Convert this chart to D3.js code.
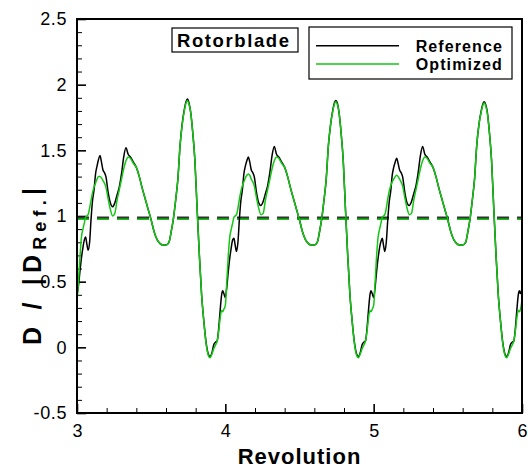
<!DOCTYPE html>
<html>
<head>
<meta charset="utf-8">
<script src="https://cdn.jsdelivr.net/npm/d3@7/dist/d3.min.js"></script>
<style>
  html, body { margin: 0; padding: 0; background: #fff; }
  svg { display: block; }
  text { font-family: "Liberation Sans", Arial, Helvetica, sans-serif; fill: #000; }
</style>
</head>
<body>
<svg id="chart" width="528" height="468"></svg>
<script>
// Blade drag over three revolutions, sampled at the same phase positions in each revolution
const phase = [
  0.000, 0.010, 0.020, 0.030, 0.040, 0.050, 0.058, 0.066, 0.075, 0.085,
  0.095, 0.105, 0.115, 0.125, 0.135, 0.145, 0.155, 0.165, 0.175, 0.185,
  0.195, 0.210, 0.225, 0.240, 0.255, 0.270, 0.285, 0.300, 0.315, 0.330,
  0.345, 0.360, 0.380, 0.400, 0.420, 0.440, 0.460, 0.480, 0.500, 0.520,
  0.540, 0.560, 0.580, 0.600, 0.620, 0.635, 0.650, 0.665, 0.680, 0.695,
  0.710, 0.725, 0.735, 0.745, 0.755, 0.765, 0.780, 0.795, 0.810, 0.825,
  0.840, 0.855, 0.870, 0.885, 0.897, 0.910, 0.922, 0.935, 0.945, 0.955,
  0.965, 0.975, 0.982, 0.990
];
const revolutions = [3, 4, 5];

const referenceRev3 = [
  0.40, 0.47, 0.58, 0.68, 0.76, 0.82, 0.84, 0.79, 0.74, 0.80,
  0.98, 1.12, 1.20, 1.32, 1.38, 1.43, 1.46, 1.41, 1.35, 1.33,
  1.30, 1.18, 1.10, 1.07, 1.10, 1.16, 1.22, 1.32, 1.45, 1.52,
  1.47, 1.45, 1.41, 1.37, 1.30, 1.21, 1.13, 1.05, 0.97, 0.88,
  0.82, 0.79, 0.78, 0.78, 0.80, 0.88, 0.98, 1.12, 1.28, 1.54,
  1.71, 1.82, 1.87, 1.89, 1.86, 1.80, 1.64, 1.42, 1.05, 0.70,
  0.40, 0.20, 0.04, -0.05, -0.07, -0.04, 0.02, 0.04, 0.05, 0.14,
  0.28, 0.40, 0.43, 0.41
];
const referenceRev4 = [
  0.38, 0.46, 0.58, 0.68, 0.76, 0.82, 0.83, 0.78, 0.73, 0.80,
  0.98, 1.12, 1.20, 1.32, 1.38, 1.42, 1.45, 1.41, 1.35, 1.33,
  1.30, 1.18, 1.10, 1.08, 1.11, 1.17, 1.23, 1.33, 1.46, 1.53,
  1.47, 1.45, 1.41, 1.37, 1.30, 1.21, 1.13, 1.05, 0.97, 0.88,
  0.82, 0.79, 0.78, 0.78, 0.80, 0.88, 0.98, 1.12, 1.28, 1.54,
  1.70, 1.81, 1.86, 1.88, 1.86, 1.80, 1.64, 1.42, 1.05, 0.70,
  0.40, 0.20, 0.04, -0.05, -0.07, -0.04, 0.02, 0.04, 0.05, 0.14,
  0.28, 0.40, 0.43, 0.41
];
const referenceRev5 = [
  0.38, 0.46, 0.58, 0.68, 0.76, 0.81, 0.83, 0.78, 0.73, 0.80,
  0.97, 1.11, 1.19, 1.31, 1.37, 1.41, 1.44, 1.40, 1.35, 1.33,
  1.30, 1.18, 1.10, 1.08, 1.11, 1.17, 1.23, 1.33, 1.46, 1.53,
  1.47, 1.45, 1.41, 1.37, 1.30, 1.21, 1.13, 1.05, 0.97, 0.88,
  0.82, 0.79, 0.78, 0.78, 0.80, 0.88, 0.98, 1.12, 1.28, 1.54,
  1.70, 1.80, 1.85, 1.87, 1.85, 1.80, 1.64, 1.42, 1.05, 0.70,
  0.40, 0.20, 0.04, -0.05, -0.07, -0.04, 0.02, 0.04, 0.05, 0.14,
  0.28, 0.40, 0.43, 0.41
];

const optimizedRev3 = [
  0.35, 0.50, 0.69, 0.84, 0.90, 0.95, 0.99, 1.00, 1.01, 1.06,
  1.12, 1.18, 1.22, 1.25, 1.28, 1.30, 1.30, 1.29, 1.27, 1.25,
  1.22, 1.13, 1.05, 1.00, 1.02, 1.12, 1.20, 1.28, 1.36, 1.42,
  1.45, 1.44, 1.40, 1.37, 1.30, 1.21, 1.13, 1.05, 0.97, 0.88,
  0.82, 0.79, 0.78, 0.78, 0.80, 0.88, 0.98, 1.12, 1.28, 1.54,
  1.70, 1.81, 1.86, 1.88, 1.85, 1.80, 1.64, 1.42, 1.05, 0.70,
  0.40, 0.20, 0.03, -0.06, -0.08, -0.05, -0.01, 0.02, 0.05, 0.12,
  0.22, 0.28, 0.27, 0.29
];
const optimizedRev4 = [
  0.32, 0.50, 0.70, 0.84, 0.90, 0.95, 0.99, 1.00, 1.01, 1.06,
  1.13, 1.19, 1.23, 1.26, 1.29, 1.31, 1.32, 1.31, 1.28, 1.26,
  1.23, 1.14, 1.06, 1.01, 1.02, 1.12, 1.20, 1.28, 1.36, 1.42,
  1.45, 1.44, 1.40, 1.37, 1.30, 1.21, 1.13, 1.05, 0.97, 0.88,
  0.82, 0.79, 0.78, 0.78, 0.80, 0.88, 0.98, 1.12, 1.28, 1.54,
  1.70, 1.80, 1.85, 1.87, 1.85, 1.80, 1.64, 1.42, 1.05, 0.70,
  0.40, 0.20, 0.03, -0.06, -0.08, -0.05, -0.01, 0.02, 0.05, 0.12,
  0.22, 0.28, 0.27, 0.29
];
const optimizedRev5 = [
  0.32, 0.50, 0.70, 0.84, 0.90, 0.95, 0.99, 1.00, 1.01, 1.06,
  1.13, 1.19, 1.23, 1.26, 1.28, 1.30, 1.31, 1.30, 1.28, 1.26,
  1.23, 1.14, 1.06, 1.01, 1.02, 1.12, 1.20, 1.28, 1.36, 1.42,
  1.45, 1.44, 1.40, 1.37, 1.30, 1.21, 1.13, 1.05, 0.97, 0.88,
  0.82, 0.79, 0.78, 0.78, 0.80, 0.88, 0.98, 1.12, 1.28, 1.54,
  1.70, 1.79, 1.84, 1.86, 1.84, 1.79, 1.64, 1.42, 1.05, 0.70,
  0.40, 0.20, 0.03, -0.06, -0.08, -0.05, -0.01, 0.02, 0.05, 0.12,
  0.22, 0.28, 0.27, 0.29
];

// value at the final revolution mark
const endRevolution = 6;
const referenceEnd = 0.45;
const optimizedEnd = 0.36;

// time-averaged drag levels (dashed)
const referenceMean = 0.988;
const optimizedMean = 0.978;

const xTicks = [3, 4, 5, 6];
const xMinorTicks = [3.2, 3.4, 3.6, 3.8, 4.2, 4.4, 4.6, 4.8, 5.2, 5.4, 5.6, 5.8];
const yTicks = [-0.5, 0, 0.5, 1, 1.5, 2, 2.5];
const yMinorTicks = d3.range(-5, 26).map(d => d / 10).filter(v => !yTicks.some(t => Math.abs(t - v) < 1e-9));

const seriesNames = ["Reference", "Optimized"];
const seriesColors = ["#000000", "#12c812"];

function buildSeries(perRev, endValue) {
  const pts = [];
  revolutions.forEach((r, i) => {
    phase.forEach((p, j) => pts.push([r + p, perRev[i][j]]));
  });
  pts.push([endRevolution, endValue]);
  return pts;
}
const referenceSeries = buildSeries([referenceRev3, referenceRev4, referenceRev5], referenceEnd);
const optimizedSeries = buildSeries([optimizedRev3, optimizedRev4, optimizedRev5], optimizedEnd);

const svg = d3.select("#chart");
const plotLeft = 77, plotRight = 522, plotTop = 19, plotBottom = 413;

const x = d3.scaleLinear().domain([3, 6]).range([plotLeft, plotRight]);
const y = d3.scaleLinear().domain([-0.5, 2.5]).range([plotBottom, plotTop]);

svg.append("defs").append("clipPath").attr("id", "plotClip")
  .append("rect").attr("x", plotLeft).attr("y", plotTop)
  .attr("width", plotRight - plotLeft).attr("height", plotBottom - plotTop);

// minor ticks
svg.append("g").attr("transform", `translate(0,${plotBottom})`)
  .call(d3.axisBottom(x).tickValues(xMinorTicks).tickSize(-5).tickFormat(""))
  .call(g => g.select(".domain").remove())
  .call(g => g.selectAll("line").attr("stroke", "#000").attr("stroke-width", 1));
svg.append("g").attr("transform", `translate(${plotLeft},0)`)
  .call(d3.axisLeft(y).tickValues(yMinorTicks).tickSize(-5).tickFormat(""))
  .call(g => g.select(".domain").remove())
  .call(g => g.selectAll("line").attr("stroke", "#000").attr("stroke-width", 1));

// major ticks and labels
svg.append("g").attr("transform", `translate(0,${plotBottom})`)
  .call(d3.axisBottom(x).tickValues(xTicks).tickSize(-9).tickPadding(11).tickFormat(d3.format("d")))
  .call(g => g.select(".domain").remove())
  .call(g => g.selectAll("line").attr("stroke", "#000").attr("stroke-width", 1.6))
  .call(g => g.selectAll("text").attr("font-size", 18).attr("font-family", "Liberation Sans, Arial, sans-serif").attr("fill", "#000"));
svg.append("g").attr("transform", `translate(${plotLeft},0)`)
  .call(d3.axisLeft(y).tickValues(yTicks).tickSize(-9).tickPadding(10).tickFormat(d => String(d)))
  .call(g => g.select(".domain").remove())
  .call(g => g.selectAll("line").attr("stroke", "#000").attr("stroke-width", 1.6))
  .call(g => g.selectAll("text").attr("font-size", 18).attr("font-family", "Liberation Sans, Arial, sans-serif").attr("fill", "#000").attr("letter-spacing", 0.6));

const plot = svg.append("g").attr("clip-path", "url(#plotClip)");

// mean levels
plot.append("line")
  .attr("x1", x(3)).attr("x2", x(6))
  .attr("y1", y(optimizedMean)).attr("y2", y(optimizedMean))
  .attr("stroke", seriesColors[1]).attr("stroke-width", 2).attr("stroke-dasharray", "12,8");
plot.append("line")
  .attr("x1", x(3)).attr("x2", x(6))
  .attr("y1", y(referenceMean)).attr("y2", y(referenceMean))
  .attr("stroke", "#333").attr("stroke-width", 2).attr("stroke-dasharray", "12,8");

const line = d3.line().x(d => x(d[0])).y(d => y(d[1])).curve(d3.curveMonotoneX);
plot.append("path").datum(referenceSeries)
  .attr("fill", "none").attr("stroke", seriesColors[0]).attr("stroke-width", 1.5).attr("d", line);
plot.append("path").datum(optimizedSeries)
  .attr("fill", "none").attr("stroke", seriesColors[1]).attr("stroke-width", 1.5).attr("d", line);

// frame
svg.append("rect").attr("x", plotLeft).attr("y", plotTop)
  .attr("width", plotRight - plotLeft).attr("height", plotBottom - plotTop)
  .attr("fill", "none").attr("stroke", "#000").attr("stroke-width", 2);

// axis titles
svg.append("text").attr("x", (plotLeft + plotRight) / 2).attr("y", 464)
  .attr("text-anchor", "middle").attr("font-size", 22).attr("font-weight", "bold").attr("letter-spacing", 1)
  .text("Revolution");

const yTitle = svg.append("text").attr("transform", "translate(41,266) rotate(-90)")
  .attr("text-anchor", "middle").attr("font-size", 25).attr("font-weight", "bold").attr("letter-spacing", 1);
yTitle.append("tspan").text("D / |D");
yTitle.append("tspan").attr("font-size", 18).attr("dy", 5).text("Ref.");
yTitle.append("tspan").attr("dy", -5).text("|");
yTitle.attr("textLength", 158).attr("lengthAdjust", "spacing");

// title box
const titleG = svg.append("g");
titleG.append("rect").attr("x", 172).attr("y", 28).attr("width", 126).attr("height", 24)
  .attr("fill", "#fff").attr("stroke", "#000").attr("stroke-width", 1.2);
titleG.append("text").attr("x", 177).attr("y", 46.5)
  .attr("font-size", 18.5).attr("font-weight", "bold").attr("letter-spacing", 1.6)
  .text("Rotorblade");

// legend
const legend = svg.append("g");
legend.append("rect").attr("x", 309).attr("y", 27).attr("width", 203).attr("height", 52)
  .attr("fill", "#fff").attr("stroke", "#000").attr("stroke-width", 1.2);
seriesNames.forEach((name, i) => {
  const ly = [45.7, 64][i];
  legend.append("line").attr("x1", 316).attr("x2", 399).attr("y1", ly).attr("y2", ly)
    .attr("stroke", seriesColors[i]).attr("stroke-width", 1.5);
  legend.append("text").attr("x", 503).attr("y", [51.7, 70][i])
    .attr("text-anchor", "end").attr("font-size", 16).attr("font-weight", "bold").attr("letter-spacing", 1.1)
    .text(name);
});
</script>
</body>
</html>
